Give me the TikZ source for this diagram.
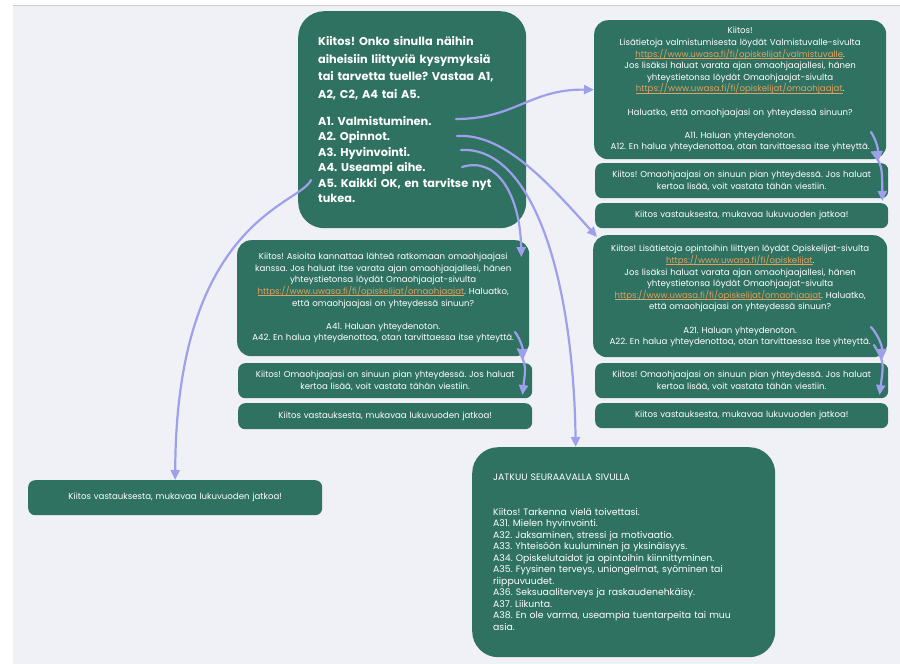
\documentclass[tikz,border=0pt]{standalone}
\usepackage{fontspec}
\setmainfont{Poppins}
\usetikzlibrary{arrows.meta, positioning}
\frenchspacing

\definecolor{boxgreen}{RGB}{47,114,97}
\definecolor{arrowblue}{RGB}{158,160,236}
\definecolor{canvas}{RGB}{240,240,247}
\definecolor{linkorange}{RGB}{228,160,95}

\newsavebox{\linkbox}
\newcommand{\weblink}[1]{\leavevmode\sbox{\linkbox}{\color{linkorange}#1}%
    {\color{linkorange}\rlap{\rule[-1.3pt]{\wd\linkbox}{0.5pt}}}\usebox{\linkbox}}

\begin{document}
\begin{tikzpicture}[
    x=1pt, y=-1pt,
    card/.style={
        fill=boxgreen,
        text=white,
        rounded corners=7pt,
        anchor=north west,
        align=center,
        inner xsep=4pt,
        inner ysep=0pt,
        font=\fontsize{8.6}{11.6}\selectfont,
    },
    bigcard/.style={
        card,
        rounded corners=26pt,
        align=left,
    },
    flow/.style={
        draw=arrowblue,
        line width=2.2pt,
        -{Triangle[length=10pt, width=9pt]},
        line cap=round,
    }
]
    \useasboundingbox (0,0) rectangle (900,664);

    % Canvas
    \fill[canvas] (13,5) rectangle (900,664);
    \draw[black!20, line width=1pt] (13,5) -- (900,5);

    % Question
    \node[bigcard, text width=188pt, minimum height=217pt, inner xsep=20pt,
          font=\fontsize{11.3}{15.4}\selectfont\bfseries] (kysymys) at (298,11) {%
        Kiitos! Onko sinulla näihin\\[2.1pt]
        aiheisiin liittyviä kysymyksiä\\[2.1pt]
        tai tarvetta tuelle? Vastaa A1,\\[2.1pt]
        A2, C2, A4 tai A5.\\[11.6pt]
        A1. Valmistuminen.\\
        A2. Opinnot.\\
        A3. Hyvinvointi.\\
        A4. Useampi aihe.\\
        A5. Kaikki OK, en tarvitse nyt\\
        tukea.};

    % A1 branch
    \node[card, rounded corners=14pt, text width=284pt, minimum height=139pt] (valmis) at (594,20) {%
        Kiitos!\\
        Lisätietoja valmistumisesta löydät Valmistuvalle-sivulta\\
        \weblink{https://www.uwasa.fi/fi/opiskelijat/valmistuvalle}.\\
        Jos lisäksi haluat varata ajan omaohjaajallesi, hänen\\
        yhteystietonsa löydät Omaohjaajat-sivulta\\
        \weblink{https://www.uwasa.fi/fi/opiskelijat/omaohjaajat}.\\[11.6pt]
        Haluatko, että omaohjaajasi on yhteydessä sinuun?\\[11.6pt]
        A11. Haluan yhteydenoton.\\
        A12. En halua yhteydenottoa, otan tarvittaessa itse yhteyttä.};
    \node[card, text width=285pt, minimum height=35pt] (valmisOtto) at (595,163) {%
        Kiitos! Omaohjaajasi on sinuun pian yhteydessä. Jos haluat\\
        kertoa lisää, voit vastata tähän viestiin.};
    \node[card, text width=285pt, minimum height=25pt] (valmisLoppu) at (595,203) {%
        Kiitos vastauksesta, mukavaa lukuvuoden jatkoa!};

    % A2 branch
    \node[card, rounded corners=14pt, text width=286pt, minimum height=122pt] (opinnot) at (593,235) {%
        Kiitos! Lisätietoja opintoihin liittyen löydät Opiskelijat-sivulta\\
        \weblink{https://www.uwasa.fi/fi/opiskelijat}.\\
        Jos lisäksi haluat varata ajan omaohjaajallesi, hänen\\
        yhteystietonsa löydät Omaohjaajat-sivulta\\
        \weblink{https://www.uwasa.fi/fi/opiskelijat/omaohjaajat}. Haluatko,\\
        että omaohjaajasi on yhteydessä sinuun?\\[11.6pt]
        A21. Haluan yhteydenoton.\\
        A22. En halua yhteydenottoa, otan tarvittaessa itse yhteyttä.};
    \node[card, text width=285pt, minimum height=35pt] (opinnotOtto) at (595,363) {%
        Kiitos! Omaohjaajasi on sinuun pian yhteydessä. Jos haluat\\
        kertoa lisää, voit vastata tähän viestiin.};
    \node[card, text width=285pt, minimum height=25pt] (opinnotLoppu) at (595,403) {%
        Kiitos vastauksesta, mukavaa lukuvuoden jatkoa!};

    % A4 branch
    \node[card, rounded corners=14pt, text width=284pt, minimum height=116pt] (useampi) at (237,240) {%
        Kiitos! Asioita kannattaa lähteä ratkomaan omaohjaajasi\\
        kanssa. Jos haluat itse varata ajan omaohjaajallesi, hänen\\
        yhteystietonsa löydät Omaohjaajat-sivulta\\
        \weblink{https://www.uwasa.fi/fi/opiskelijat/omaohjaajat}. Haluatko,\\
        että omaohjaajasi on yhteydessä sinuun?\\[11.6pt]
        A41. Haluan yhteydenoton.\\
        A42. En halua yhteydenottoa, otan tarvittaessa itse yhteyttä.};
    \node[card, text width=286pt, minimum height=35pt] (useampiOtto) at (238,363) {%
        Kiitos! Omaohjaajasi on sinuun pian yhteydessä. Jos haluat\\
        kertoa lisää, voit vastata tähän viestiin.};
    \node[card, text width=286pt, minimum height=26pt] (useampiLoppu) at (238,403) {%
        Kiitos vastauksesta, mukavaa lukuvuoden jatkoa!};

    % A3 branch
    \node[bigcard, text width=261pt, minimum height=210pt, inner xsep=21pt,
          font=\fontsize{9.3}{11.5}\selectfont] (hyvinvointi) at (472,447) {%
        JATKUU SEURAAVALLA SIVULLA\\[23pt]
        Kiitos! Tarkenna vielä toivettasi.\\
        A31. Mielen hyvinvointi.\\
        A32. Jaksaminen, stressi ja motivaatio.\\
        A33. Yhteisöön kuuluminen ja yksinäisyys.\\
        A34. Opiskelutaidot ja opintoihin kiinnittyminen.\\
        A35. Fyysinen terveys, uniongelmat, syöminen tai\\
        riippuvuudet.\\
        A36. Seksuaaliterveys ja raskaudenehkäisy.\\
        A37. Liikunta.\\
        A38. En ole varma, useampia tuentarpeita tai muu\\
        asia.};

    % A5 branch
    \node[card, text width=286pt, minimum height=35pt] (kaikkiOk) at (28,480) {%
        Kiitos vastauksesta, mukavaa lukuvuoden jatkoa!};

    % Answer anchors
    \coordinate (ans1) at (456,119);
    \coordinate (ans2) at (457,136);
    \coordinate (ans3) at (461,150);
    \coordinate (ans4) at (462,167);
    \coordinate (ans5) at (311,180);
    \coordinate (ans11) at (871,132);
    \coordinate (ans12) at (872,152);
    \coordinate (ans21) at (871,327);
    \coordinate (ans22) at (874,345);
    \coordinate (ans41) at (515,332);
    \coordinate (ans42) at (518,349);

    % Arrows
    \draw[flow] (ans1) .. controls (515,119) and (530,89) .. (valmis.west);
    \draw[flow] (ans2) .. controls (505,133) and (550,185) .. ([xshift=4pt, yshift=-2pt]opinnot.north west);
    \draw[flow] (ans3) .. controls (530,146) and (573,270) .. ([xshift=-48pt]hyvinvointi.north);
    \draw[flow] (ans4) .. controls (497,156) and (520,195) .. ([xshift=-8pt, yshift=-17pt]useampi.north east);
    \draw[flow] (ans5) .. controls (300,205) and (176,220) .. (kaikkiOk.north);
    \draw[flow] (ans11) .. controls (876,140) and (878,148) .. ([xshift=-10pt, yshift=2pt]valmisOtto.north east);
    \draw[flow] (ans12) .. controls (882,165) .. ([xshift=-6pt, yshift=2pt]valmisLoppu.north east);
    \draw[flow] (ans21) .. controls (878,335) and (882,345) .. ([xshift=-6pt, yshift=4pt]opinnotOtto.north east);
    \draw[flow] (ans22) .. controls (884,362) .. ([xshift=-9pt, yshift=8pt]opinnotLoppu.north east);
    \draw[flow] (ans41) .. controls (521,340) and (523,350) .. ([xshift=-9pt, yshift=4pt]useampiOtto.north east);
    \draw[flow] (ans42) .. controls (526,365) .. ([xshift=-10pt, yshift=8pt]useampiLoppu.north east);
\end{tikzpicture}
\end{document}
